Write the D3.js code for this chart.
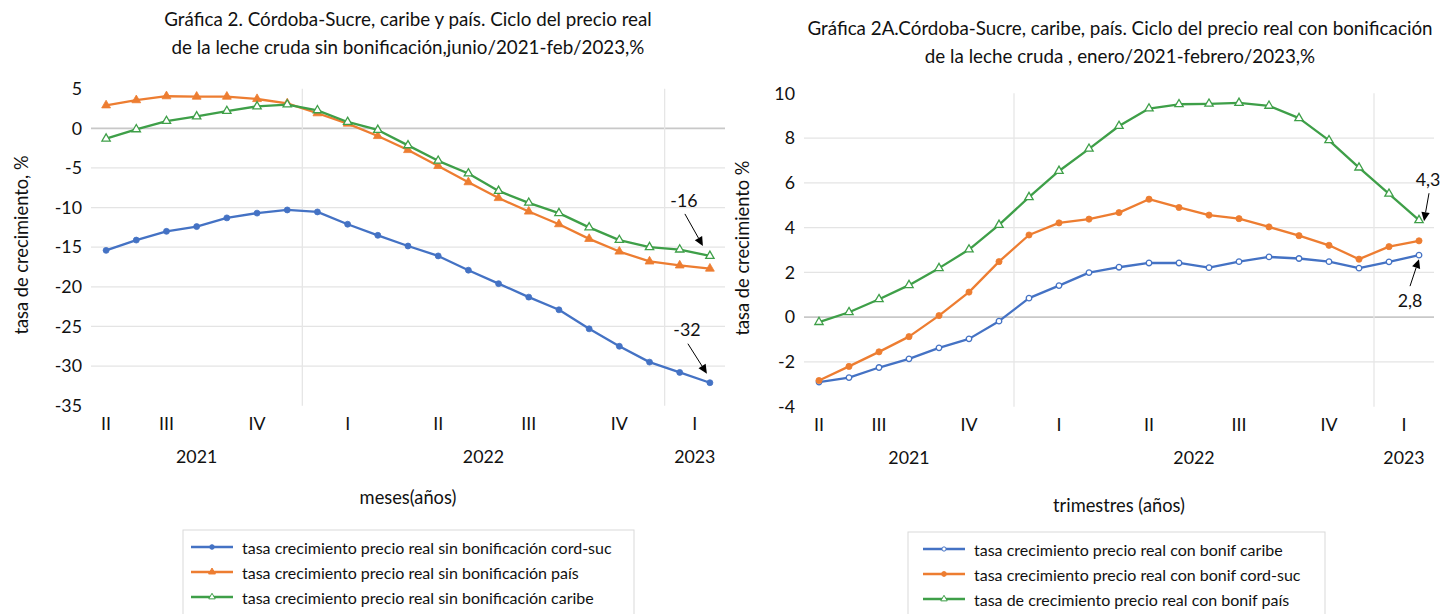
<!DOCTYPE html>
<html>
<head>
<meta charset="utf-8">
<script src="https://cdn.jsdelivr.net/npm/d3@7/dist/d3.min.js"></script>
<style>
  html, body { margin: 0; padding: 0; background: #fff; }
  svg { display: block; font-family: Lato, "Open Sans", sans-serif; }
</style>
</head>
<body>
<svg id="chart" width="1456" height="614"></svg>
<script>
// ---------- DATA ----------
const months = ["2021-06","2021-07","2021-08","2021-09","2021-10","2021-11","2021-12",
  "2022-01","2022-02","2022-03","2022-04","2022-05","2022-06","2022-07","2022-08","2022-09",
  "2022-10","2022-11","2022-12","2023-01","2023-02"];
const quarterNames = ["I","II","III","IV"];

// Left chart: sin bonificación
const leftCordSuc = [-15.4,-14.1,-13.0,-12.4,-11.3,-10.7,-10.3,-10.55,-12.1,-13.5,-14.85,-16.1,-17.9,-19.6,-21.3,-22.9,-25.3,-27.5,-29.5,-30.8,-32.1];
const leftPais    = [2.9,3.55,4.05,4.0,4.0,3.7,3.15,1.9,0.6,-0.97,-2.74,-4.75,-6.8,-8.8,-10.5,-12.1,-13.95,-15.55,-16.8,-17.3,-17.7];
const leftCaribe  = [-1.3,-0.13,0.92,1.5,2.18,2.77,3.0,2.27,0.8,-0.2,-2.15,-4.1,-5.7,-7.9,-9.4,-10.7,-12.5,-14.1,-15.0,-15.3,-16.1];
const leftTicks = [5,0,-5,-10,-15,-20,-25,-30,-35];

// Right chart: con bonificación
const rightCaribe  = [-2.9,-2.7,-2.25,-1.86,-1.37,-0.97,-0.18,0.85,1.41,1.99,2.23,2.42,2.42,2.21,2.48,2.69,2.62,2.48,2.19,2.47,2.77];
const rightCordSuc = [-2.83,-2.2,-1.55,-0.87,0.07,1.12,2.48,3.67,4.21,4.38,4.67,5.27,4.9,4.56,4.4,4.03,3.64,3.21,2.59,3.15,3.41];
const rightPais    = [-0.22,0.22,0.8,1.43,2.19,3.02,4.12,5.36,6.53,7.52,8.54,9.32,9.51,9.53,9.57,9.44,8.89,7.9,6.68,5.51,4.33];
const rightTicks = [10,8,6,4,2,0,-2,-4];

const leftTitle = ["Gráfica 2. Córdoba-Sucre, caribe y país. Ciclo del precio real",
                   "de la leche cruda sin bonificación,junio/2021-feb/2023,%"];
const rightTitle = ["Gráfica 2A.Córdoba-Sucre, caribe, país. Ciclo del precio real con bonificación",
                    "de la leche cruda , enero/2021-febrero/2023,%"];
const leftSeriesNames = ["tasa crecimiento precio real sin bonificación cord-suc",
  "tasa crecimiento precio real sin bonificación país",
  "tasa crecimiento precio real sin bonificación caribe"];
const rightSeriesNames = ["tasa crecimiento precio real con bonif caribe",
  "tasa crecimiento precio real con bonif cord-suc",
  "tasa de crecimiento precio real con bonif país"];

// ---------- STYLE ----------
const BLUE = "#4472C4", ORANGE = "#ED7D31", GREEN = "#3E9F48";
const TXT = "#111";
const FS_TICK = 17.8, FS_AXT = 18.3, FS_TITLE = 18.8, FS_LEG = 16.0;

const svg = d3.select("#chart");

function groupsOf(keyFn) {
  const out = [];
  months.forEach((m, i) => {
    const k = keyFn(m);
    const last = out[out.length - 1];
    if (last && last.key === k) last.end = i;
    else out.push({ key: k, start: i, end: i });
  });
  return out;
}
const quarterGroups = groupsOf(m => m.slice(0,4) + "-" + quarterNames[Math.floor((+m.slice(5,7) - 1) / 3)])
  .map(g => ({ ...g, label: g.key.split("-")[1] }));
const yearGroups = groupsOf(m => m.slice(0,4)).map(g => ({ ...g, label: g.key }));

function symbolPath(kind, size) {
  const t = kind === "circle" ? d3.symbolCircle : d3.symbolTriangle;
  return d3.symbol().type(t).size(size)();
}

function drawChart(cfg) {
  const g = svg.append("g");
  const x = d3.scaleBand().domain(d3.range(months.length)).range([cfg.x0, cfg.x1]).padding(0);
  const cx = i => x(i) + x.bandwidth() / 2;
  const y = d3.scaleLinear().domain(cfg.domain).range([cfg.yb, cfg.yt]);

  // horizontal gridlines (interior)
  g.append("g").selectAll("line")
    .data(cfg.ticks.filter(t => t !== cfg.domain[0] && t !== cfg.domain[1]))
    .join("line")
    .attr("x1", cfg.x0).attr("x2", cfg.x1)
    .attr("y1", d => y(d)).attr("y2", d => y(d))
    .attr("stroke", d => d === 0 ? "#C8C8C8" : "#E4E4E4")
    .attr("stroke-width", d => d === 0 ? 1.6 : 1.3);

  // vertical year-boundary gridlines
  g.append("g").selectAll("line")
    .data(yearGroups.slice(1))
    .join("line")
    .attr("x1", d => x(d.start)).attr("x2", d => x(d.start))
    .attr("y1", cfg.yt).attr("y2", cfg.yb)
    .attr("stroke", "#E6E6E6").attr("stroke-width", 1.3);

  // y axis labels
  const ax = g.append("g").attr("transform", `translate(${cfg.x0},0)`)
    .call(d3.axisLeft(y).tickValues(cfg.ticks).tickFormat(d => String(d)).tickSize(0).tickPadding(cfg.tickPad));
  ax.select(".domain").remove();
  ax.selectAll("text").attr("font-size", FS_TICK).attr("fill", TXT).attr("font-family", "Lato, sans-serif");

  // category labels
  g.append("g").selectAll("text").data(quarterGroups).join("text")
    .attr("x", d => (cx(d.start) + cx(d.end)) / 2).attr("y", cfg.qy)
    .attr("text-anchor", "middle").attr("dominant-baseline", "central")
    .attr("font-size", FS_TICK).attr("fill", TXT).text(d => d.label);
  g.append("g").selectAll("text").data(yearGroups).join("text")
    .attr("x", d => (cx(d.start) + cx(d.end)) / 2).attr("y", cfg.yy)
    .attr("text-anchor", "middle").attr("dominant-baseline", "central")
    .attr("font-size", FS_TICK).attr("fill", TXT).text(d => d.label);

  // axis titles
  g.append("text").attr("x", (cfg.x0 + cfg.x1) / 2).attr("y", cfg.xTitleY)
    .attr("text-anchor", "middle").attr("dominant-baseline", "central")
    .attr("font-size", FS_AXT).attr("fill", TXT).text(cfg.xTitle);
  g.append("text").attr("transform", `translate(${cfg.yTitleX},${cfg.yTitleY}) rotate(-90)`)
    .attr("text-anchor", "middle").attr("dominant-baseline", "central")
    .attr("font-size", FS_AXT).attr("fill", TXT).text(cfg.yTitle);

  // title
  g.append("g").selectAll("text").data(cfg.title).join("text")
    .attr("x", cfg.titleX).attr("y", (d, i) => cfg.titleY + i * 28)
    .attr("text-anchor", "middle").attr("dominant-baseline", "central")
    .attr("font-size", FS_TITLE).attr("fill", TXT).text(d => d);

  // series
  const line = d3.line().x((d, i) => cx(i)).y(d => y(d));
  cfg.series.forEach(s => {
    const sg = g.append("g");
    sg.append("path").datum(s.values).attr("d", line)
      .attr("fill", "none").attr("stroke", s.color).attr("stroke-width", 2.3)
      .attr("stroke-linejoin", "round");
    sg.selectAll("path.m").data(s.values).join("path").attr("class", "m")
      .attr("d", symbolPath(s.marker, s.size))
      .attr("transform", (d, i) => `translate(${cx(i)},${y(d)})`)
      .attr("fill", s.hollow ? "#fff" : s.color)
      .attr("stroke", s.color).attr("stroke-width", s.hollow ? 1.3 : 0.8);
  });

  // annotations
  cfg.annots.forEach(a => {
    const s = cfg.series[a.series];
    const n = s.values.length - 1;
    const px = cx(n), py = y(s.values[n]);
    const x1 = px + a.from[0], y1 = py + a.from[1];
    const x2 = px + a.tip[0], y2 = py + a.tip[1];
    const ang = Math.atan2(y2 - y1, x2 - x1);
    const L = 9, W = 4.2;
    const bx = x2 - L * Math.cos(ang), by = y2 - L * Math.sin(ang);
    g.append("line").attr("x1", x1).attr("y1", y1).attr("x2", bx).attr("y2", by)
      .attr("stroke", "#000").attr("stroke-width", 1);
    g.append("path")
      .attr("d", `M${x2},${y2}L${bx - W * Math.sin(ang)},${by + W * Math.cos(ang)}L${bx + W * Math.sin(ang)},${by - W * Math.cos(ang)}Z`)
      .attr("fill", "#000");
    g.append("text").attr("x", px + a.text[0]).attr("y", py + a.text[1])
      .attr("text-anchor", "middle").attr("dominant-baseline", "central")
      .attr("font-size", FS_TICK).attr("fill", TXT).text(a.fmt(s.values[n]));
  });

  // legend
  const lg = g.append("g");
  lg.append("rect").attr("x", cfg.legX).attr("y", cfg.legY).attr("width", cfg.legW).attr("height", 100)
    .attr("fill", "#fff").attr("stroke", "#D9D9D9").attr("stroke-width", 1);
  cfg.series.forEach((s, i) => {
    const ly = cfg.legY + 17 + i * 25;
    const lx = cfg.legX + cfg.legLineDx;
    lg.append("line").attr("x1", lx).attr("x2", lx + 42).attr("y1", ly).attr("y2", ly)
      .attr("stroke", s.color).attr("stroke-width", 2.3);
    lg.append("path").attr("d", symbolPath(s.marker, s.size * 0.6))
      .attr("transform", `translate(${lx + 21},${ly})`)
      .attr("fill", s.hollow ? "#fff" : s.color).attr("stroke", s.color).attr("stroke-width", 1);
    lg.append("text").attr("x", lx + 51).attr("y", ly).attr("dominant-baseline", "central")
      .attr("font-size", FS_LEG).attr("fill", TXT).text(s.name);
  });
}

const fmtInt = v => String(Math.round(v));
const fmtComma = v => v.toFixed(1).replace(".", ",");

drawChart({
  x0: 91, x1: 725, yt: 88.7, yb: 405.7, domain: [-35, 5], ticks: leftTicks, tickPad: 9,
  qy: 423, yy: 456, xTitle: "meses(años)", xTitleY: 497,
  yTitle: "tasa de crecimiento, %", yTitleX: 21, yTitleY: 245,
  title: leftTitle, titleX: 408, titleY: 18,
  series: [
    { name: leftSeriesNames[0], values: leftCordSuc, color: BLUE, marker: "circle", size: 28, hollow: false },
    { name: leftSeriesNames[1], values: leftPais, color: ORANGE, marker: "triangle", size: 34, hollow: false },
    { name: leftSeriesNames[2], values: leftCaribe, color: GREEN, marker: "triangle", size: 30, hollow: true }
  ],
  annots: [
    { series: 2, from: [-25, -42], tip: [-7, -10], text: [-26, -56], fmt: fmtInt },
    { series: 0, from: [-22, -39], tip: [-3, -9], text: [-23, -54], fmt: fmtInt }
  ],
  legX: 183, legY: 530, legW: 451, legLineDx: 8
});

drawChart({
  x0: 804, x1: 1434, yt: 93.3, yb: 406.7, domain: [-4, 10], ticks: rightTicks, tickPad: 9,
  qy: 424, yy: 457, xTitle: "trimestres (años)", xTitleY: 505,
  yTitle: "tasa de crecimiento %", yTitleX: 742, yTitleY: 248,
  title: rightTitle, titleX: 1120, titleY: 27,
  series: [
    { name: rightSeriesNames[0], values: rightCaribe, color: BLUE, marker: "circle", size: 24, hollow: true },
    { name: rightSeriesNames[1], values: rightCordSuc, color: ORANGE, marker: "circle", size: 30, hollow: false },
    { name: rightSeriesNames[2], values: rightPais, color: GREEN, marker: "triangle", size: 30, hollow: true }
  ],
  annots: [
    { series: 2, from: [10, -27], tip: [5, 1], text: [9, -41], fmt: fmtComma },
    { series: 0, from: [-9, 31], tip: [0, 4], text: [-9, 45], fmt: fmtComma }
  ],
  legX: 908, legY: 532, legW: 417, legLineDx: 15
});
</script>
</body>
</html>
